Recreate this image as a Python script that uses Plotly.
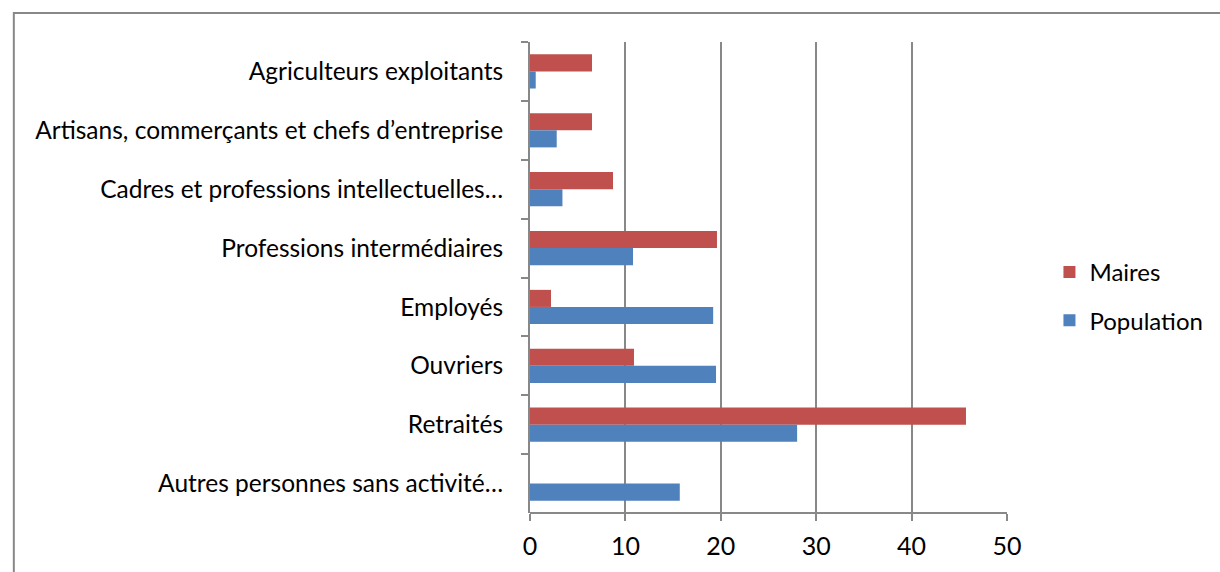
import plotly.graph_objects as go

categories = [
    "Agriculteurs exploitants",
    "Artisans, commerçants et chefs d’entreprise",
    "Cadres et professions intellectuelles…",
    "Professions intermédiaires",
    "Employés",
    "Ouvriers",
    "Retraités",
    "Autres personnes sans activité…",
]
maires = [6.5, 6.5, 8.7, 19.6, 2.2, 10.9, 45.7, 0.0]
population = [0.6, 2.8, 3.4, 10.8, 19.2, 19.5, 28.0, 15.7]
x_ticks = [0, 10, 20, 30, 40, 50]

FONT = "Lato"

fig = go.Figure()
fig.add_trace(go.Bar(y=categories, x=maires, orientation="h", name="Maires",
                     marker=dict(color="#C0504D", line=dict(width=0)),
                     legendgroup="m"))
fig.add_trace(go.Bar(y=categories, x=population, orientation="h", name="Population",
                     marker=dict(color="#4F81BD", line=dict(width=0)),
                     legendgroup="p"))

W, H = 1220, 572
L, R, T, B = 530, 1011, 42, 515
pw, ph = R - L, B - T

fig.update_layout(
    width=W, height=H,
    margin=dict(l=L, r=W - R, t=T, b=H - B),
    paper_bgcolor="white", plot_bgcolor="white",
    barmode="group", bargap=0.42, bargroupgap=0,
    font=dict(family=FONT, size=24, color="black"),
    legend=dict(x=1.089, y=0.46, xanchor="left", yanchor="middle",
                font=dict(size=24), tracegroupgap=14, itemwidth=30,
                bgcolor="rgba(0,0,0,0)"),
    xaxis=dict(range=[0, 50], tickvals=x_ticks, showgrid=True, gridcolor="#888888",
               gridwidth=2, showline=False, zeroline=False,
               ticks="outside", ticklen=7, tickcolor="#888888", tickwidth=2,
               tickfont=dict(size=25), ticklabelstandoff=4, fixedrange=True),
    yaxis=dict(type="category", autorange="reversed", showline=True, linecolor="#888888",
               linewidth=2, ticks="outside", ticklen=7, tickcolor="#888888", tickwidth=2,
               tickson="boundaries", showgrid=False, ticklabelstandoff=20,
               tickfont=dict(size=24.5)),
    showlegend=True,
)
# bottom axis line
fig.add_shape(type="line", xref="paper", yref="paper", x0=0, x1=1, y0=0, y1=0,
              line=dict(color="#888888", width=2))
# outer chart border
fig.add_shape(type="rect", xref="paper", yref="paper",
              x0=(9.5 - L) / pw, x1=(1240 - L) / pw,
              y0=(B - 600) / ph, y1=(B - 13) / ph,
              line=dict(color="#888888", width=2), layer="below")

fig.write_html("out.html", config={"displayModeBar": False},
               post_script="document.body.style.margin='0';document.body.style.overflow='hidden';")
